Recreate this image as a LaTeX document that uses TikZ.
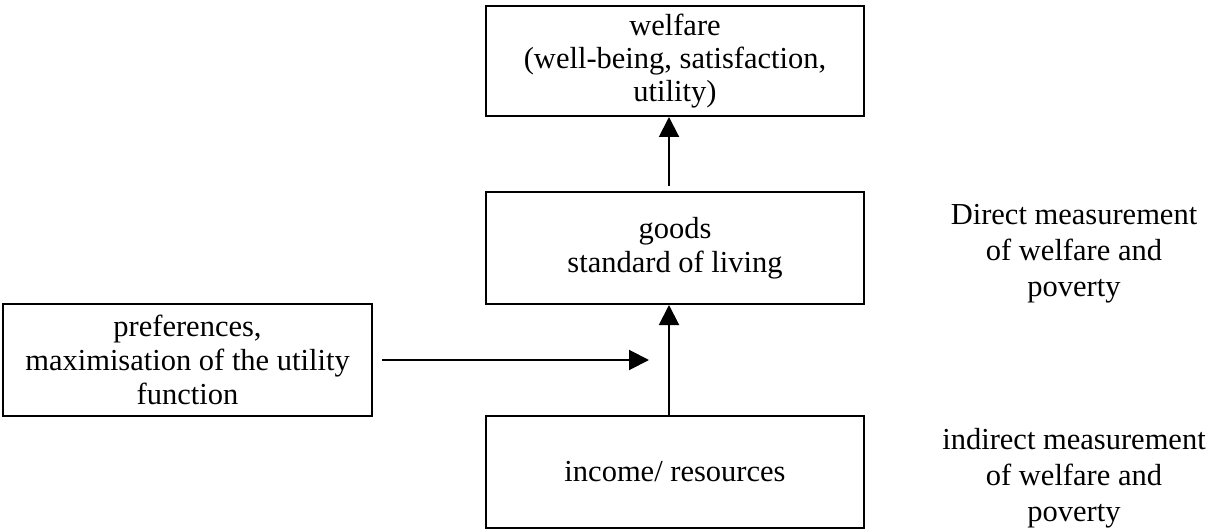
\documentclass[tikz,border=0pt]{standalone}
\usepackage{fontspec}
\setmainfont{Liberation Serif}
\usetikzlibrary{arrows.meta}
\begin{document}
\begin{tikzpicture}[x=1pt,y=-1pt,
  box/.style={draw, line width=2pt, inner sep=0pt, align=center, font=\fontsize{30.5}{34}\selectfont},
  lbl/.style={inner sep=0pt, align=center, font=\fontsize{30.5}{36}\selectfont},
  arr/.style={line width=2pt, -{Triangle[length=20pt,width=20pt]}}]
\useasboundingbox (0,0) rectangle (1215,529);
\node[box, minimum width=378pt, minimum height=110pt, font=\fontsize{30.5}{33}\selectfont] (welfare) at (675,61)
  {welfare\\(well-being, satisfaction,\\utility)};
\node[box, minimum width=378pt, minimum height=112pt] (goods) at (675,248)
  {goods\\standard of living};
\node[box, minimum width=378pt, minimum height=112pt] (income) at (675,472)
  {income/ resources};
\node[box, minimum width=369pt, minimum height=112pt, font=\fontsize{30.5}{34}\selectfont] (pref) at (187.5,360)
  {preferences,\\maximisation of the utility\\function};
\node[lbl] (direct) at (1074,254) {Direct measurement\\of welfare and\\poverty};
\node[lbl] (indirect) at (1074,478) {indirect measurement\\of welfare and\\poverty};
\coordinate (hend) at (649,359);
\draw[arr] ([xshift=-6pt]income.north) -- ([xshift=-6pt]goods.south);
\draw[arr] ([xshift=-6pt,yshift=5pt]goods.north) -- ([xshift=-6pt]welfare.south);
\draw[arr] ([xshift=9pt]pref.east) -- (pref.east -| hend);
\end{tikzpicture}
\end{document}
